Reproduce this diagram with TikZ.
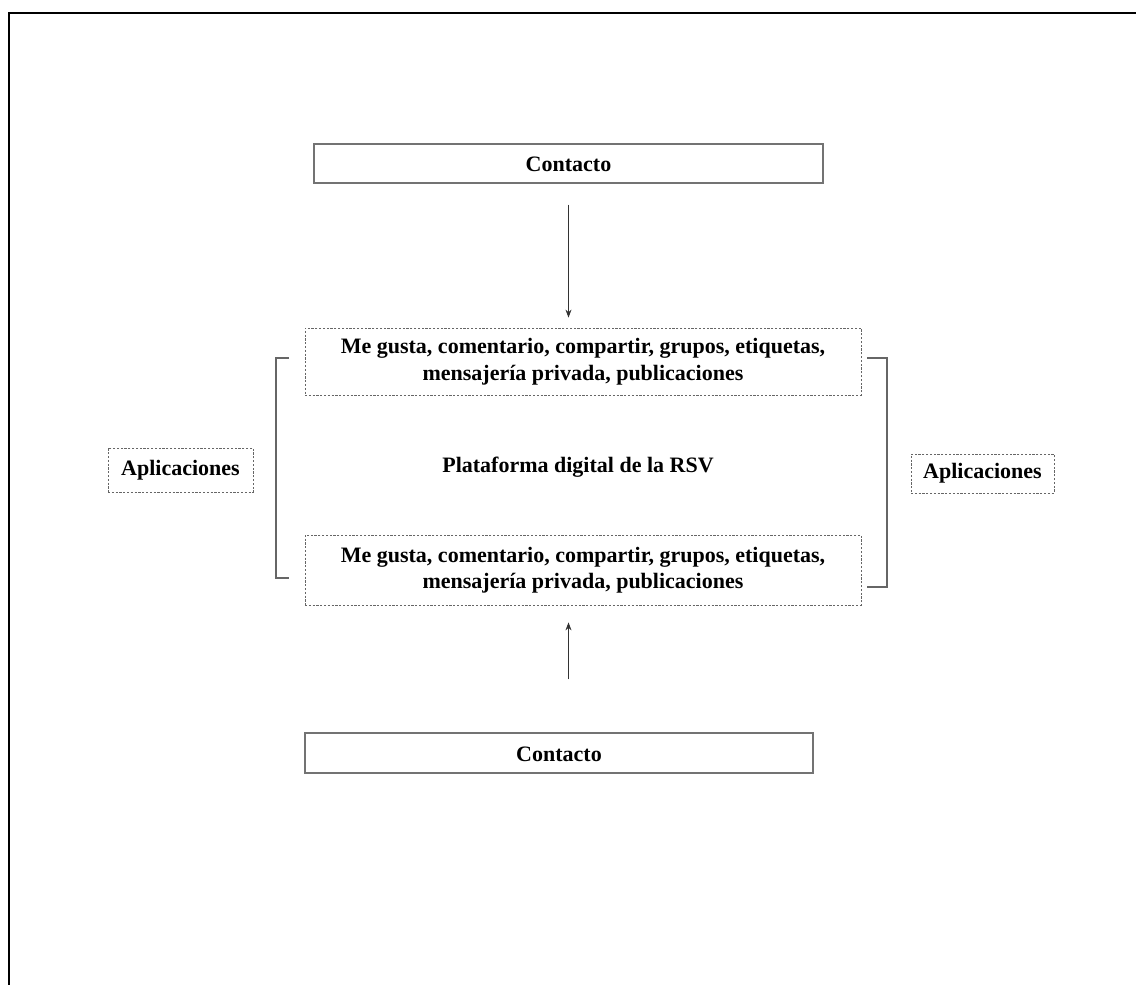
\documentclass[tikz,border=0pt]{standalone}
\usepackage{fontspec}
\setmainfont{Liberation Serif}
\usetikzlibrary{arrows.meta}
\begin{document}
\begin{tikzpicture}[x=1pt,y=-1pt,
  txt/.style={font=\fontsize{22}{26.5}\selectfont\bfseries, text=black, align=center, inner sep=0pt},
  solidbox/.style={txt, draw=black!55, line width=1.1pt, rectangle},
  dashbox/.style={txt, draw=black!60, line width=0.8pt, dash pattern=on 2.2pt off 1.6pt, rectangle},
  conn/.style={draw=black!80, line width=0.9pt, -{Stealth[length=8pt,width=6pt]}},
  brk/.style={draw=black!60, line width=1.1pt}]
\useasboundingbox (0,0) rectangle (1136,985);
\fill[white] (0,0) rectangle (1136,985);
% frame (top and left edges only)
\draw[line width=2.2pt, black] (9,985) -- (9,13) -- (1136,13);

\node[solidbox, minimum width=509pt, minimum height=39pt, text height=17pt] (c1) at (568.5,163.5) {Contacto};
\node[dashbox, minimum width=556pt, minimum height=67pt] (m1) at (583,361.5)
  {Me gusta, comentario, compartir, grupos, etiquetas,\\mensajería privada, publicaciones};
\node[txt] (p) at (578,467) {Plataforma digital de la RSV};
\node[dashbox, minimum width=556pt, minimum height=70pt] (m2) at (583,570)
  {Me gusta, comentario, compartir, grupos, etiquetas,\\mensajería privada, publicaciones};
\node[solidbox, minimum width=508pt, minimum height=40pt, text height=17pt] (c2) at (559,753) {Contacto};
\node[dashbox, minimum width=145pt, minimum height=44pt] (al) at (180.5,470) {Aplicaciones};
\node[dashbox, minimum width=143pt, minimum height=39pt] (ar) at (982.5,473.5) {Aplicaciones};

% arrows
\draw[conn, shorten <=21pt, shorten >=10pt] (c1.south) -- (c1.south |- m1.north);
\draw[conn, shorten <=53pt, shorten >=17pt] (c1.south |- c2.north) -- (c1.south |- m2.south);

% brackets
\coordinate (bl1) at (289,358);
\coordinate (bl2) at (289,578);
\coordinate (br1) at (867,358);
\coordinate (br2) at (867,587);
\draw[brk] (bl1) -- ++(-13,0) |- (bl2);
\draw[brk] (br1) -- ++(20,0) |- (br2);
\end{tikzpicture}
\end{document}
